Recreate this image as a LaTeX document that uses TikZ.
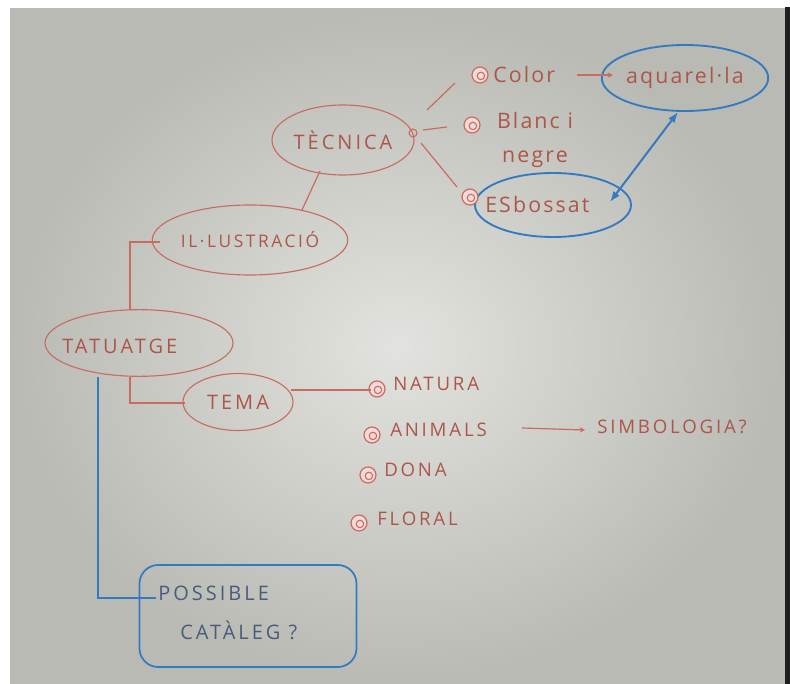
\documentclass[tikz,border=0pt]{standalone}
\usepackage{fontspec}
\setmainfont{Open Sans}
\newfontfamily\hand[LetterSpace=15]{Open Sans}
\newfontfamily\handlow[LetterSpace=10]{Open Sans}
\usetikzlibrary{shapes.geometric,arrows.meta,calc}
\definecolor{paperL}{RGB}{226,226,222}
\definecolor{paperD}{RGB}{186,186,181}
\definecolor{redpen}{RGB}{200,108,96}
\definecolor{redtxt}{RGB}{172,86,74}
\definecolor{bluepen}{RGB}{52,122,192}
\definecolor{bluetxt}{RGB}{74,92,120}
\begin{document}
\begin{tikzpicture}[x=0.75pt,y=-0.75pt,
  redoval/.style={ellipse, draw=redpen, line width=0.85pt, inner sep=0pt, text=redtxt,
    font=\hand\fontsize{15}{18}\selectfont},
  blueoval/.style={ellipse, draw=bluepen, line width=1.4pt, inner sep=0pt, text=redtxt,
    font=\handlow\fontsize{16}{19}\selectfont},
  bluebox/.style={rectangle, rounded corners=14pt, draw=bluepen, line width=1.3pt, inner sep=0pt},
  boxtext/.style={anchor=west, inner sep=0pt, text=bluetxt, font=\hand\fontsize{15}{18}\selectfont},
  redline/.style={draw=redpen, line width=0.9pt},
  blueline/.style={draw=bluepen, line width=1.1pt},
  bullet/.style={circle, draw=redpen, fill=redpen!25, line width=0.9pt, minimum size=12pt, inner sep=0pt,
    path picture={\draw[redpen, line width=0.8pt] ([xshift=0.7pt,yshift=-0.7pt]path picture bounding box.center) circle (2.8pt);}},
  item/.style={anchor=west, inner sep=0pt, text=redtxt, font=\hand\fontsize{14}{17}\selectfont},
  lowitem/.style={anchor=west, inner sep=0pt, text=redtxt, font=\handlow\fontsize{16}{25}\selectfont},
  loopnode/.style={circle, draw=redpen, line width=0.8pt, minimum size=6pt, inner sep=0pt}
]
\useasboundingbox (0,0) rectangle (790,684);
\fill[white] (0,0) rectangle (790,684);
\shade[inner color=paperL, outer color=paperD] (10,9) rectangle (785,684);
\fill[black!88] (785,7) rectangle (790,684);

% main ovals
\node[redoval, minimum width=106.5pt, minimum height=52.5pt] (tec) at (343,140) {TÈCNICA};
\node[redoval, minimum width=138pt, minimum height=52.5pt, font=\hand\fontsize{13}{16}\selectfont] (ill) at (250,240) {IL·LUSTRACIÓ};
\node[redoval, minimum width=141pt, minimum height=50pt] (tat) at (139,343) {};
\node[item, font=\hand\fontsize{15}{18}\selectfont] (tatT) at (62,346) {TATUATGE};
\node[redoval, minimum width=82.5pt, minimum height=42.75pt] (tema) at (238,402) {TEMA};
\node[blueoval, minimum width=123pt, minimum height=49.5pt] (aqua) at (685,78) {aquarel·la};
\node[blueoval, minimum width=117pt, minimum height=48pt] (esb) at (553,205) {};
\node[bluebox, minimum width=162.75pt, minimum height=76.5pt] (poss) at (248,616) {};
\node[boxtext] (possT) at (158,593) {POSSIBLE};
\node[boxtext] (catT) at (180,630) {CATÀLEG ?};
\node[loopnode] (loop) at (413,133) {};

% technique items
\node[bullet] (colorb) at (480,75) {};
\node[lowitem] (colorT) at (493,75) {Color};
\node[bullet] (blancb) at (472,125) {};
\node[lowitem, anchor=center, align=center] (blancT) at (535,140) {Blanc i\\negre};
\node[bullet] (esbb) at (470,197) {};
\node[lowitem] (esbT) at (485,205) {ESbossat};

% theme items
\node[bullet] (naturab) at (377,389) {};
\node[item] (naturaT) at (393,384) {NATURA};
\node[bullet] (animalsb) at (372,435) {};
\node[item] (animalsT) at (390,430) {ANIMALS};
\node[bullet] (donab) at (368,475) {};
\node[item] (donaT) at (384,470) {DONA};
\node[bullet] (floralb) at (359,523) {};
\node[item] (floralT) at (377,519) {FLORAL};
\node[item] (simbT) at (597,427) {SIMBOLOGIA?};

% connectors
\draw[redline] ([shift={(-23,31)}]tec.center) -- ([shift={(52,-30)}]ill.center);
\draw[redline] ([shift={(84,-30)}]tec.center) -- ([shift={(-25,8)}]colorb.center);
\draw[redline] ([shift={(10,-3)}]loop.center) -- ([shift={(-25,2)}]blancb.center);
\draw[redline] ([shift={(8,10)}]loop.center) -- ([shift={(-13,-10)}]esbb.center);
\draw[redline, -{Stealth[length=4pt,width=4pt]}] ([shift={(97,0)}]colorb.center) -- ([shift={(-72,-3)}]aqua.center);
\draw[bluepen, line width=1.5pt, {Latex[length=8pt,width=6pt]}-{Latex[length=8pt,width=6pt]}] ([shift={(-7,34)}]aqua.center) -- ([shift={(57,-3)}]esb.center);
\draw[redline] ([shift={(-9,-33)}]tat.center) |- ([shift={(-90,2)}]ill.center);
\draw[redline] ([shift={(-9,34)}]tat.center) |- ([shift={(-53,1)}]tema.center);
\draw[redline] ([shift={(53,-12)}]tema.center) -- ([shift={(-6,1)}]naturab.center);
\draw[redline, -{Stealth[length=4pt,width=4pt]}] ([shift={(150,-7)}]animalsb.center) -- ([shift={(-12,3)}]simbT.west);
\draw[blueline] ([shift={(-41,34)}]tat.center) |- ([shift={(-92,-18)}]poss.center);
\end{tikzpicture}
\end{document}
